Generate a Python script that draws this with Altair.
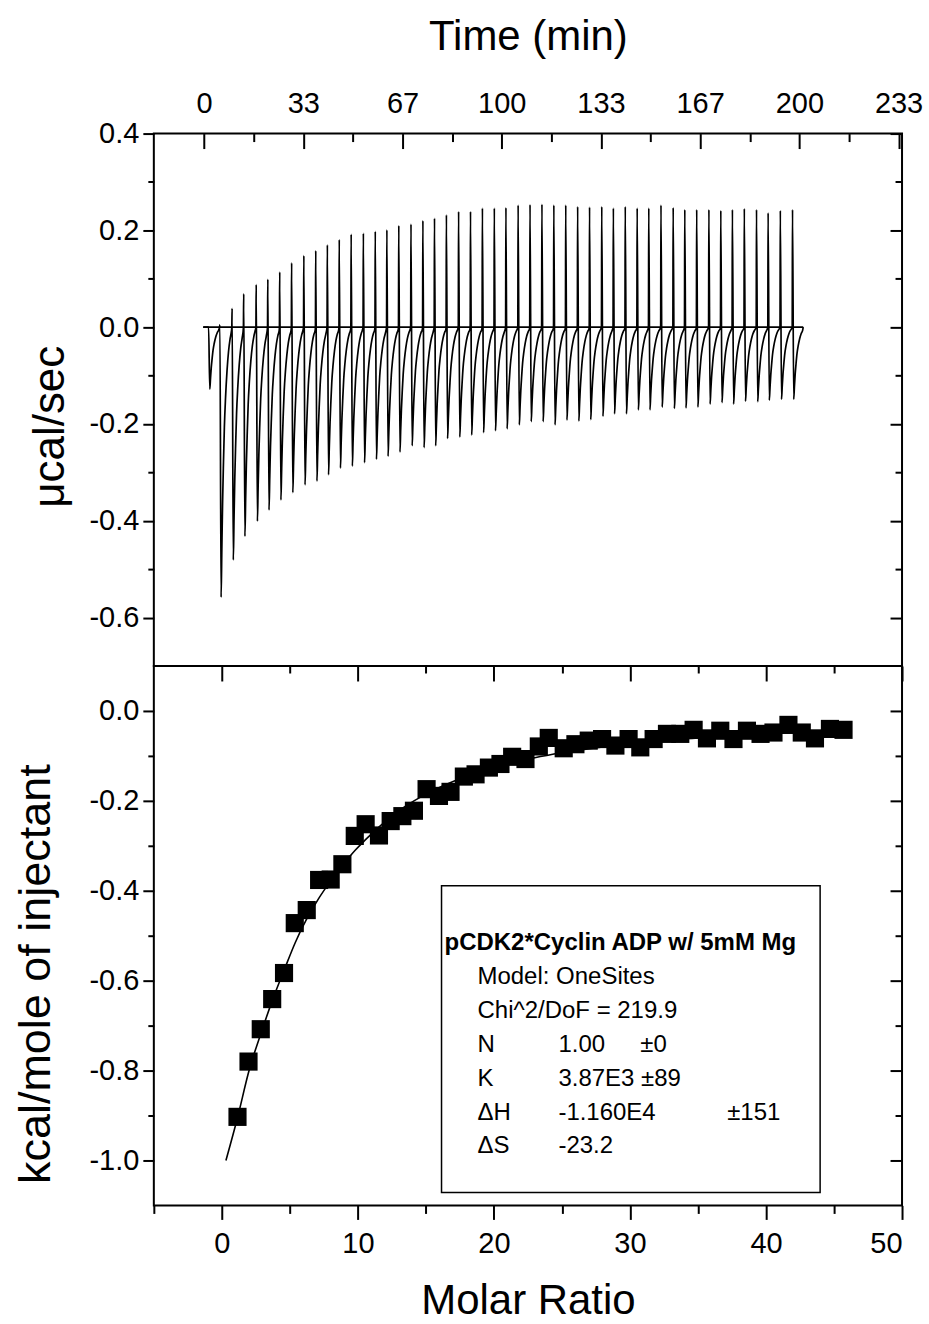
import altair as alt
import pandas as pd

# ---------------- data ----------------
# upper panel: injection start times (min), positive spike and negative trough (ucal/sec)
inj_time = [1.4, 5.2, 9.3, 13.2, 17.4, 21.3, 25.3, 29.3, 33.4, 37.4, 41.3, 45.3, 49.3, 53.4,
            57.4, 61.3, 65.3, 69.4, 73.4, 77.3, 81.3, 85.4, 89.4, 93.4, 97.4, 101.3, 105.4,
            109.4, 113.4, 117.4, 121.4, 125.4, 129.4, 133.5, 137.4, 141.4, 145.4, 149.3,
            153.4, 157.5, 161.4, 165.4, 169.5, 173.5, 177.4, 181.4, 185.5, 189.4, 193.5, 197.6]
inj_up = [0.0, 0.005, 0.039, 0.069, 0.088, 0.099, 0.114, 0.133, 0.148, 0.158, 0.170, 0.181,
          0.192, 0.194, 0.198, 0.201, 0.210, 0.213, 0.220, 0.225, 0.232, 0.239, 0.239, 0.246,
          0.246, 0.247, 0.252, 0.253, 0.254, 0.252, 0.252, 0.249, 0.248, 0.249, 0.246, 0.249,
          0.246, 0.246, 0.252, 0.247, 0.243, 0.243, 0.243, 0.241, 0.243, 0.245, 0.243, 0.236,
          0.241, 0.243]
inj_down = [-0.128, -0.558, -0.481, -0.432, -0.401, -0.378, -0.357, -0.342, -0.326, -0.318,
            -0.305, -0.291, -0.287, -0.280, -0.273, -0.267, -0.258, -0.245, -0.249, -0.245,
            -0.230, -0.227, -0.223, -0.218, -0.214, -0.210, -0.202, -0.195, -0.195, -0.202,
            -0.192, -0.194, -0.191, -0.184, -0.179, -0.179, -0.171, -0.171, -0.165, -0.168,
            -0.167, -0.165, -0.159, -0.156, -0.159, -0.153, -0.154, -0.151, -0.149, -0.149]
# shape of the return to baseline after a trough (minutes after trough, fraction of trough)
rec_dt = [0.0, 0.25, 0.5, 0.8, 1.1, 1.5, 2.0, 2.5, 3.0, 3.4]
rec_frac = [1.0, 0.82, 0.65, 0.50, 0.37, 0.26, 0.16, 0.09, 0.045, 0.02]
trace_span = [-0.3, 201.3]

# lower panel: integrated heats
molar_ratio = [1.15, 1.96, 2.86, 3.70, 4.57, 5.36, 6.24, 7.15, 8.00, 8.86, 9.77, 10.57, 11.55,
               12.41, 13.27, 14.12, 15.05, 15.96, 16.81, 17.79, 18.65, 19.63, 20.48, 21.34,
               22.32, 23.30, 24.03, 25.13, 25.99, 26.97, 27.95, 28.93, 29.90, 30.76, 31.74,
               32.72, 33.70, 34.68, 35.66, 36.64, 37.61, 38.60, 39.60, 40.55, 41.65, 42.63,
               43.60, 44.70, 45.70]
heat = [-0.903, -0.780, -0.708, -0.641, -0.583, -0.472, -0.443, -0.376, -0.375, -0.341,
        -0.278, -0.252, -0.277, -0.245, -0.234, -0.222, -0.174, -0.189, -0.180, -0.146,
        -0.141, -0.126, -0.118, -0.102, -0.107, -0.079, -0.060, -0.083, -0.074, -0.066,
        -0.0625, -0.077, -0.0625, -0.081, -0.0625, -0.051, -0.051, -0.042, -0.061, -0.044,
        -0.0625, -0.044, -0.051, -0.048, -0.031, -0.048, -0.061, -0.040, -0.042]
fit_ratio = [0.3, 1.15, 2.0, 2.9, 3.7, 4.6, 5.4, 6.2, 7.1, 8.0, 8.9, 9.8, 10.6, 12.0, 13.5,
             15.0, 17.0, 19.0, 21.0, 23.0, 25.0, 28.0, 31.0, 34.0, 37.0, 40.0, 43.0, 46.0]
fit_heat = [-1.0, -0.905, -0.80, -0.715, -0.645, -0.575, -0.515, -0.465, -0.418, -0.378,
            -0.342, -0.31, -0.285, -0.246, -0.212, -0.185, -0.157, -0.135, -0.118, -0.104,
            -0.093, -0.080, -0.070, -0.062, -0.056, -0.051, -0.047, -0.044]

# axes
time_major = [0, 100 / 3, 200 / 3, 100, 400 / 3, 500 / 3, 200, 700 / 3]
time_minor = [50 / 3, 50, 250 / 3, 350 / 3, 450 / 3, 550 / 3, 650 / 3]
top_y_major = [-0.6, -0.4, -0.2, 0.0, 0.2, 0.4]
top_y_minor = [-0.5, -0.3, -0.1, 0.1, 0.3]
mr_major = [0, 10, 20, 30, 40, 50]
mr_minor = [-5, 5, 15, 25, 35, 45]
bot_y_major = [0.0, -0.2, -0.4, -0.6, -0.8, -1.0]
bot_y_minor = [-0.1, -0.3, -0.5, -0.7, -0.9]

legend_title = "pCDK2*Cyclin ADP w/ 5mM Mg"
legend_lines = [
    ["Model: OneSites", "", ""],
    ["Chi^2/DoF = 219.9", "", ""],
    ["N", "1.00", "\u00b10"],
    ["K", "3.87E3 \u00b189", ""],
    ["\u0394H", "-1.160E4", "\u00b1151"],
    ["\u0394S", "-23.2", ""],
]

# ---------------- build the thermogram table ----------------
rows = [(trace_span[0], 0.0)]
for i, (t, up, dn) in enumerate(zip(inj_time, inj_up, inj_down)):
    nxt = inj_time[i + 1] if i + 1 < len(inj_time) else trace_span[1]
    rows.append((t, 0.0))
    rows.append((t + 0.1, up))
    for dt, fr in zip(rec_dt, rec_frac):
        tt = t + 0.5 + dt
        if tt < nxt - 0.05:
            rows.append((tt, dn * fr))
rows.append((trace_span[1], 0.0))
trace = pd.DataFrame(rows, columns=["t", "p"])
trace["i"] = range(len(trace))
base = pd.DataFrame({"t": trace_span, "p": [0.0, 0.0]})

pts = pd.DataFrame({"mr": molar_ratio, "h": heat})
fit = pd.DataFrame({"mr": fit_ratio, "h": fit_heat})

FONT = "Liberation Sans"
W = 749
H1 = 533
H2 = 540
LBL = 29

tsc = alt.Scale(domain=[-16.9, 234.5], nice=False, zero=False)
ysc1 = alt.Scale(domain=[-0.7, 0.4], nice=False, zero=False)
xsc2 = alt.Scale(domain=[-5, 50], nice=False, zero=False)
ysc2 = alt.Scale(domain=[-1.1, 0.1], nice=False, zero=False)

neg_expr = "datum.value < 0 ? '-' + format(-datum.value, '.1f') : format(datum.value, '.1f')"


def ticks_only(orient, values, size, offset=0):
    return alt.Axis(orient=orient, values=values, tickSize=size, offset=offset, labels=False,
                    domain=False, grid=False, title=None)


# ---------------- upper panel ----------------
trace_line = alt.Chart(trace).mark_line(color="#000", strokeWidth=1.7, interpolate="monotone").encode(
    x=alt.X("t:Q", scale=tsc, axis=alt.Axis(
        orient="top", values=time_major, labelExpr="format(datum.value, '.0f')", tickSize=15,
        offset=-15, domain=False, grid=False, labelPadding=15, labelFontSize=LBL,
        title="Time (min)", titleFontSize=42, titleY=-112, titleBaseline="middle")),
    y=alt.Y("p:Q", scale=ysc1, axis=alt.Axis(
        orient="left", values=top_y_major, labelExpr=neg_expr, tickSize=11, domain=False,
        grid=False, labelPadding=4, labelFontSize=LBL, title="\u03bccal/sec", titleFontSize=44,
        titleX=-103, titleY=293, titleBaseline="middle")),
    order="i:Q",
)
base_line = alt.Chart(base).mark_line(color="#000", strokeWidth=1.7).encode(
    x=alt.X("t:Q", scale=tsc, axis=ticks_only("top", time_minor, 8, -8)),
    y=alt.Y("p:Q", scale=ysc1, axis=ticks_only("left", top_y_minor, 6)),
)
top_r1 = alt.Chart(base).mark_point(opacity=0).encode(
    x=alt.X("t:Q", scale=tsc, axis=None),
    y=alt.Y("p:Q", scale=ysc1, axis=ticks_only("right", top_y_major, 12, -12)),
)
top_r2 = alt.Chart(base).mark_point(opacity=0).encode(
    x=alt.X("t:Q", scale=tsc, axis=None),
    y=alt.Y("p:Q", scale=ysc1, axis=ticks_only("right", top_y_minor, 7, -7)),
)
top = alt.layer(trace_line, base_line, top_r1, top_r2).resolve_axis(
    x="independent", y="independent").properties(width=W, height=H1)

# ---------------- lower panel ----------------
squares = alt.Chart(pts).mark_point(shape="square", filled=True, size=330, color="#000", opacity=1).encode(
    x=alt.X("mr:Q", scale=xsc2, axis=alt.Axis(
        orient="bottom", values=mr_major, tickSize=14, domain=False, grid=False,
        labelPadding=10, labelFontSize=LBL, title="Molar Ratio", titleFontSize=42,
        titleY=95, titleBaseline="middle")),
    y=alt.Y("h:Q", scale=ysc2, axis=alt.Axis(
        orient="left", values=bot_y_major, labelExpr=neg_expr, tickSize=11, domain=False,
        grid=False, labelPadding=4, labelFontSize=LBL, title="kcal/mole of injectant",
        titleFontSize=45, titleX=-118, titleY=308, titleBaseline="middle")),
)
fit_line = alt.Chart(fit).mark_line(color="#000", strokeWidth=1.6, interpolate="monotone").encode(
    x=alt.X("mr:Q", scale=xsc2, axis=ticks_only("bottom", mr_minor, 8)),
    y=alt.Y("h:Q", scale=ysc2, axis=ticks_only("left", bot_y_minor, 6)),
)
bot_a = alt.Chart(fit).mark_point(opacity=0).encode(
    x=alt.X("mr:Q", scale=xsc2, axis=ticks_only("top", mr_major, 15, -15)),
    y=alt.Y("h:Q", scale=ysc2, axis=ticks_only("right", bot_y_major, 12, -12)),
)
bot_b = alt.Chart(fit).mark_point(opacity=0).encode(
    x=alt.X("mr:Q", scale=xsc2, axis=ticks_only("top", mr_minor[1:], 7, -7)),
    y=alt.Y("h:Q", scale=ysc2, axis=ticks_only("right", bot_y_minor, 7, -7)),
)

one = pd.DataFrame({"k": [0]})
box = alt.Chart(one).mark_rect(fill="white", stroke="#000", strokeWidth=1.5).encode(
    x=alt.value(288), x2=alt.value(667), y=alt.value(220), y2=alt.value(527))

text_layers = [alt.Chart(one).mark_text(
    align="left", baseline="alphabetic", font=FONT, fontSize=24, fontWeight="bold", color="#000"
).encode(x=alt.value(291), y=alt.value(284), text=alt.value(legend_title))]
col_x = [324, 405, 487]
row_y = [318, 352, 386, 420, 454, 488]
for r, line in enumerate(legend_lines):
    for c, s in enumerate(line):
        if not s:
            continue
        cx = col_x[c]
        if c == 2 and r == 4:
            cx = 574
        text_layers.append(alt.Chart(one).mark_text(
            align="left", baseline="alphabetic", font=FONT, fontSize=24, color="#000"
        ).encode(x=alt.value(cx), y=alt.value(row_y[r]), text=alt.value(s)))

bottom = alt.layer(fit_line, squares, bot_a, bot_b, box, *text_layers).resolve_axis(
    x="independent", y="independent").properties(width=W, height=H2)

chart = alt.vconcat(top, bottom, spacing=0, bounds="flush").properties(
    padding={"left": 13, "top": 14, "right": 5, "bottom": 3}
).configure_view(stroke="#000", strokeWidth=2).configure_axis(
    labelFont=FONT, titleFont=FONT, labelColor="#000", titleColor="#000",
    tickColor="#000", tickWidth=2, titleFontWeight="normal", grid=False
)

chart.save("out.html", embed_options={"renderer": "svg", "actions": False})
